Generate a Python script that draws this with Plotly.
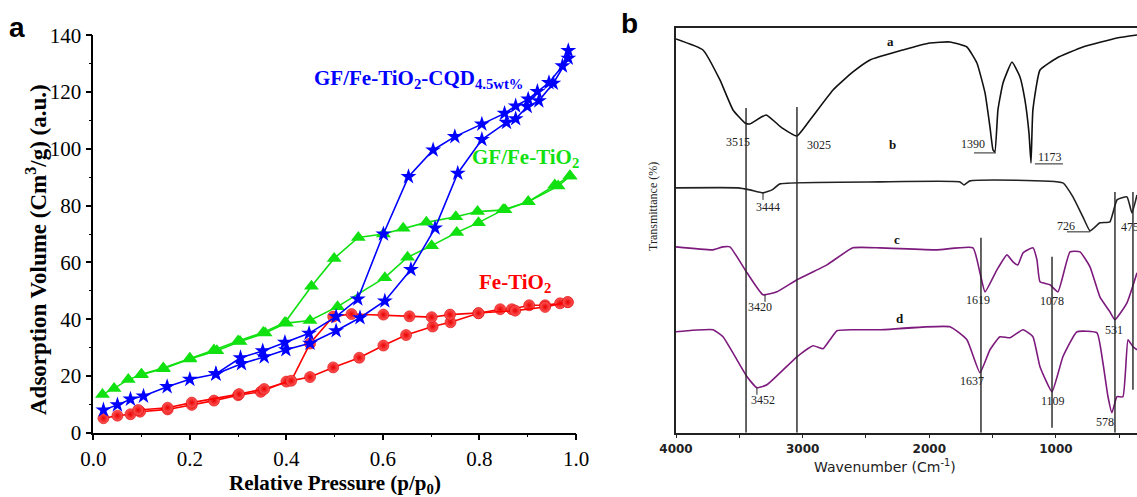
import plotly.graph_objects as go

# ---------------- Panel a: N2 isotherms ----------------
red_ads_x = [0.021, 0.05, 0.077, 0.097, 0.154, 0.204, 0.25, 0.30, 0.347, 0.40, 0.449, 0.497, 0.551, 0.601, 0.648, 0.703, 0.740, 0.798, 0.843, 0.867, 0.903, 0.936, 0.967, 0.983]
red_ads_y = [5.1, 6.0, 6.5, 7.4, 8.2, 9.8, 11.3, 13.2, 14.4, 18.0, 19.6, 23.0, 26.4, 30.7, 34.4, 37.4, 38.9, 42.1, 43.5, 43.5, 44.9, 44.9, 45.6, 46.0]
red_des_x = [0.983, 0.936, 0.874, 0.798, 0.739, 0.701, 0.655, 0.601, 0.535, 0.497, 0.449, 0.41, 0.354, 0.302, 0.204, 0.154, 0.093]
red_des_y = [46.0, 44.3, 43.0, 42.1, 41.6, 40.7, 41.0, 41.6, 41.8, 40.9, 31.4, 18.3, 15.4, 13.6, 10.6, 8.8, 8.0]

green_ads_x = [0.019, 0.043, 0.0725, 0.099, 0.145, 0.20, 0.256, 0.304, 0.356, 0.40, 0.449, 0.506, 0.604, 0.651, 0.701, 0.753, 0.798, 0.849, 0.901, 0.956, 0.9875]
green_ads_y = [13.5, 15.6, 18.7, 20.4, 22.5, 26.0, 28.9, 32.1, 35.1, 38.6, 39.5, 44.4, 54.6, 61.8, 65.9, 70.5, 74.0, 78.5, 81.4, 87.3, 90.4]
green_des_x = [0.9875, 0.963, 0.901, 0.853, 0.796, 0.751, 0.69, 0.642, 0.601, 0.549, 0.499, 0.452, 0.397, 0.352, 0.30, 0.25, 0.20, 0.145, 0.10]
green_des_y = [90.4, 86.9, 81.4, 78.5, 77.9, 76.1, 74.1, 72.0, 70.0, 68.8, 61.4, 51.6, 38.8, 35.3, 32.3, 29.1, 26.2, 22.8, 20.6]

blue_ads_x = [0.021, 0.05, 0.077, 0.104, 0.153, 0.20, 0.254, 0.307, 0.354, 0.399, 0.449, 0.503, 0.5525, 0.604, 0.658, 0.708, 0.755, 0.805, 0.856, 0.875, 0.899, 0.923, 0.953, 0.984]
blue_ads_y = [8.0, 9.8, 11.8, 12.9, 16.2, 18.8, 20.7, 24.3, 26.7, 29.2, 31.5, 35.9, 40.5, 46.4, 57.5, 72.1, 91.4, 103.3, 109.3, 110.6, 114.9, 116.9, 123.1, 131.9]
blue_des_x = [0.984, 0.972, 0.944, 0.920, 0.901, 0.875, 0.852, 0.805, 0.749, 0.704, 0.653, 0.601, 0.548, 0.503, 0.447, 0.397, 0.351, 0.305, 0.254]
blue_des_y = [134.6, 129.2, 123.3, 120.2, 117.5, 115.1, 112.5, 108.7, 104.3, 99.6, 90.2, 70.0, 47.1, 40.9, 35.0, 31.8, 28.8, 26.4, 20.7]

# ---------------- Panel b: FTIR spectra (arbitrary transmittance units) ----------------
spec_a_wn = [4000, 3787, 3653, 3550, 3455, 3416, 3289, 3163, 3045, 2942, 2760, 2603, 2468, 2208, 1995, 1837, 1703, 1624, 1560, 1521, 1497, 1482, 1458, 1418, 1347, 1284, 1245, 1213, 1197, 1182, 1126, 992, 787, 518, 360]
spec_a_t = [394, 383, 353, 323, 310, 309, 318, 305, 297, 313, 343, 361, 373, 383, 390, 391, 386, 370, 340, 306, 283, 281, 323, 350, 371, 356, 333, 300, 270, 323, 363, 375, 386, 395, 398]

spec_b_wn = [4000, 3511, 3416, 3313, 3242, 3179, 2389, 1758, 1726, 1679, 945, 866, 787, 731, 653, 574, 518, 439, 400, 360]
spec_b_t = [245, 245, 243, 240, 243, 249, 251, 251, 248, 252, 250, 236, 216, 202, 210, 211, 233, 236, 220, 238]

spec_c_wn = [4000, 3708, 3629, 3574, 3439, 3313, 3203, 3045, 2808, 2603, 2389, 1939, 1655, 1600, 1560, 1466, 1387, 1339, 1300, 1260, 1182, 1150, 1126, 1047, 984, 889, 810, 731, 653, 574, 534, 439, 360]
spec_c_t = [186, 183, 186, 186, 160, 138, 141, 153, 168, 185, 185, 183, 185, 160, 141, 163, 178, 171, 168, 180, 185, 173, 151, 148, 141, 181, 181, 166, 136, 121, 113, 130, 160]

spec_d_wn = [4000, 3708, 3629, 3439, 3361, 3282, 3045, 2918, 2839, 2784, 2729, 2603, 2389, 1837, 1703, 1600, 1521, 1442, 1363, 1260, 1182, 1126, 1031, 945, 834, 676, 629, 589, 558, 518, 471, 431, 392, 360]
spec_d_t = [101, 103, 96, 56, 45, 48, 76, 87, 84, 93, 102, 103, 103, 106, 93, 60, 83, 96, 95, 103, 96, 66, 41, 76, 101, 100, 70, 36, 20, 36, 36, 93, 86, 83]

peak_line_wn = [3447, 3045, 1592, 1031, 534, 392]
peak_line_top = [325, 326, 195, 176, 241, 241]
peak_line_bottom = [0, 0, 0, 5, 0, 43]

small_tick_wn = [3313, 3297, 3361]
small_tick_top = [240, 138, 45]
small_tick_bottom = [233, 131, 38]

underline_wn_start = [1647, 1166, 913]
underline_wn_end = [1474, 945, 731]
underline_t = [280, 269, 201]

peak_labels = ["3515", "3025", "3444", "1390", "1173", "726", "475", "3420", "3452", "1619", "1078", "531", "1637", "1109", "578"]
peak_label_wn = [3511, 2871, 3274, 1655, 1047, 921, 416, 3337, 3313, 1616, 1031, 542, 1663, 1024, 613]
peak_label_t = [291, 288, 226, 289, 276, 207, 206, 126, 33, 133, 132, 103, 52, 32, 11]

curve_names = ["a", "b", "c", "d"]
curve_name_wn = [2310, 2287, 2255, 2232]
curve_name_t = [391, 288, 193, 114]

fig = go.Figure()

RED = "#ff0000"
GREEN = "#11e011"
BLUE = "#0000ff"
PURPLE = "#7d1a7d"

def iso(x, y, color, symbol, size, grad=None):
    marker = dict(symbol=symbol, size=size, color=color, line=dict(width=0))
    if grad:
        marker = dict(symbol=symbol, size=size, color="#ff5a5a",
                      gradient=dict(type="radial", color="#e80000"),
                      line=dict(width=0.6, color="#dd0000"))
    fig.add_trace(go.Scatter(x=x, y=y, mode="lines+markers", xaxis="x", yaxis="y",
                             line=dict(color=color, width=1.6), marker=marker,
                             showlegend=False, cliponaxis=False))

iso(green_ads_x, green_ads_y, GREEN, "triangle-up", 13)
iso(green_des_x, green_des_y, GREEN, "triangle-up", 13)
iso(red_ads_x, red_ads_y, RED, "circle", 11, grad=True)
iso(red_des_x, red_des_y, RED, "circle", 11, grad=True)
iso(blue_ads_x, blue_ads_y, BLUE, "star", 12)
iso(blue_des_x, blue_des_y, BLUE, "star", 12)

# spectra
for wn, t, col in [(spec_a_wn, spec_a_t, "#111111"), (spec_b_wn, spec_b_t, "#222222"),
                   (spec_c_wn, spec_c_t, PURPLE), (spec_d_wn, spec_d_t, PURPLE)]:
    fig.add_trace(go.Scatter(x=wn, y=t, mode="lines", xaxis="x2", yaxis="y2",
                             line=dict(color=col, width=1.6, shape="spline", smoothing=0.4),
                             showlegend=False))

def seg_trace(xs0, xs1, ys0, ys1, width=1.3, color="#222222"):
    X, Y = [], []
    for a0, a1, b0, b1 in zip(xs0, xs1, ys0, ys1):
        X += [a0, a1, None]
        Y += [b0, b1, None]
    fig.add_trace(go.Scatter(x=X, y=Y, mode="lines", xaxis="x2", yaxis="y2",
                             line=dict(color=color, width=width), showlegend=False))

seg_trace(peak_line_wn, peak_line_wn, peak_line_bottom, peak_line_top, 1.4)
seg_trace(small_tick_wn, small_tick_wn, small_tick_bottom, small_tick_top, 1.0)
seg_trace(underline_wn_start, underline_wn_end, underline_t, underline_t, 1.0)

ann = []
serif = "Liberation Serif"
for txt, w, t in zip(peak_labels, peak_label_wn, peak_label_t):
    ann.append(dict(x=w, y=t, xref="x2", yref="y2", text=txt, showarrow=False,
                    xanchor="center", yanchor="middle",
                    font=dict(family=serif, size=12, color="#222222")))
for txt, w, t in zip(curve_names, curve_name_wn, curve_name_t):
    ann.append(dict(x=w, y=t, xref="x2", yref="y2", text="<b>%s</b>" % txt, showarrow=False,
                    xanchor="center", yanchor="middle",
                    font=dict(family=serif, size=13, color="#111111")))

# panel a curve labels
ann.append(dict(x=0.453, y=124.6, xref="x", yref="y", xanchor="left", yanchor="middle",
                text="<b>GF/Fe-TiO<sub>2</sub>-CQD<sub>4.5wt%</sub></b>", showarrow=False,
                font=dict(family=serif, size=21, color=BLUE)))
ann.append(dict(x=0.780, y=96.8, xref="x", yref="y", xanchor="left", yanchor="middle",
                text="<b>GF/Fe-TiO<sub>2</sub></b>", showarrow=False,
                font=dict(family=serif, size=21, color=GREEN)))
ann.append(dict(x=0.795, y=52.7, xref="x", yref="y", xanchor="left", yanchor="middle",
                text="<b>Fe-TiO<sub>2</sub></b>", showarrow=False,
                font=dict(family=serif, size=21, color=RED)))

# panel letters
ann.append(dict(x=17/1137, y=(497-27)/497, xref="paper", yref="paper", text="<b>a</b>",
                xanchor="center", yanchor="middle",
                showarrow=False, font=dict(family="Liberation Sans", size=28, color="black")))
ann.append(dict(x=629/1137, y=(497-24)/497, xref="paper", yref="paper", text="<b>b</b>",
                xanchor="center", yanchor="middle",
                showarrow=False, font=dict(family="Liberation Sans", size=28, color="black")))

# axis titles
ann.append(dict(x=335/1137, y=(497-484)/497, xref="paper", yref="paper",
                xanchor="center", yanchor="middle",
                text="<b>Relative Pressure (p/p<sub>0</sub>)</b>", showarrow=False,
                font=dict(family=serif, size=21, color="black")))
ann.append(dict(x=37/1137, y=(497-250)/497, xref="paper", yref="paper", textangle=-90,
                xanchor="center", yanchor="middle",
                text="<b>Adsorption Volume (Cm<sup>3</sup>/g) (a.u.)</b>", showarrow=False,
                font=dict(family=serif, size=23, color="black")))
ann.append(dict(x=885/1137, y=(497-466)/497, xref="paper", yref="paper",
                xanchor="center", yanchor="middle",
                text="Wavenumber (Cm<sup>-1</sup>)", showarrow=False,
                font=dict(family="DejaVu Sans", size=14, color="#222222")))
ann.append(dict(x=653/1137, y=(497-207)/497, xref="paper", yref="paper", textangle=-90,
                xanchor="center", yanchor="middle",
                text="Transmittance (%)", showarrow=False,
                font=dict(family=serif, size=12, color="#222222")))

W, H = 1137, 497
fig.update_layout(
    width=W, height=H, margin=dict(l=0, r=0, t=0, b=0, autoexpand=False),
    paper_bgcolor="white", plot_bgcolor="white", showlegend=False,
    annotations=ann,
    xaxis=dict(domain=[93.3/W, 576/W], range=[0, 1.0], anchor="y", automargin=False,
               showline=True, linecolor="black", linewidth=1.5, zeroline=False, showgrid=False,
               ticks="outside", ticklen=6, tickwidth=1.5, tickcolor="black",
               tick0=0, dtick=0.2, tickformat=".1f",
               minor=dict(dtick=0.1, ticks="outside", ticklen=3, tickwidth=1.2, tickcolor="black"),
               tickfont=dict(family=serif, size=21, color="black")),
    yaxis=dict(domain=[(H-432.7)/H, (H-35.3)/H], range=[0, 140], anchor="x", automargin=False,
               showline=True, linecolor="black", linewidth=1.5, zeroline=False, showgrid=False,
               ticks="outside", ticklen=6, tickwidth=1.5, tickcolor="black",
               tick0=0, dtick=20,
               minor=dict(dtick=10, ticks="outside", ticklen=3, tickwidth=1.2, tickcolor="black"),
               tickfont=dict(family=serif, size=21, color="black")),
    xaxis2=dict(domain=[676/W, 1.0], range=[4000, 360], anchor="y2", automargin=False,
                showline=True, mirror=True, linecolor="#222222", linewidth=1.5,
                zeroline=False, showgrid=False,
                ticks="outside", ticklen=4, tickwidth=1.2, tickcolor="#222222",
                tick0=0, dtick=1000,
                minor=dict(dtick=500, ticks="outside", ticklen=4, tickwidth=1.2, tickcolor="#222222"),
                tickfont=dict(family="DejaVu Sans", size=12, color="#222222"),
                tickprefix="<b>", ticksuffix="</b>"),
    yaxis2=dict(domain=[(H-432.7)/H, (H-28)/H], range=[0, 405], anchor="x2", automargin=False,
                showline=True, linecolor="#222222", linewidth=1.5, zeroline=False,
                showgrid=False, showticklabels=False, ticks=""),
)

fig.write_html("out.html", config={"displayModeBar": False},
               post_script="document.body.style.margin='0px';document.body.style.overflow='hidden';")
